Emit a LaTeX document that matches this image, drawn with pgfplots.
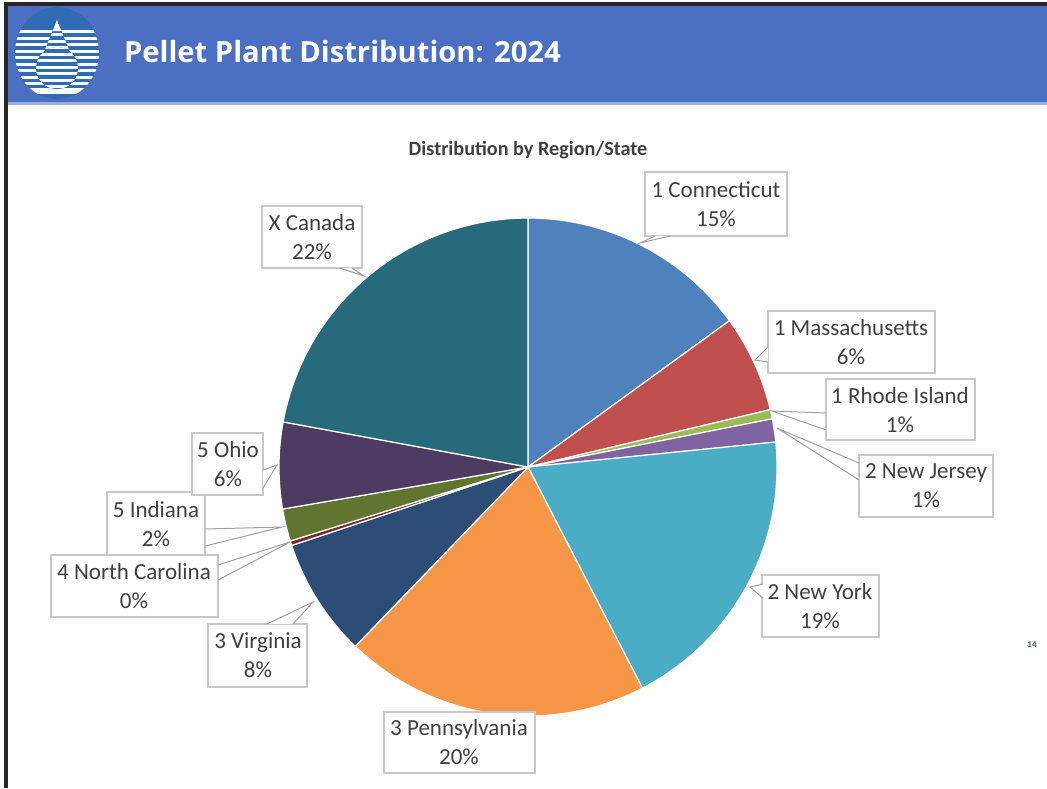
\documentclass[border=0pt]{standalone}
\usepackage{pgfplots}
\usepackage{pgfplotstable}
\pgfplotsset{compat=1.18}
\usepackage{fontspec}
\setmainfont{Carlito}
\newfontfamily\headfont{Open Sans}
\definecolor{cCT}{HTML}{4F81BD}
\definecolor{cMA}{HTML}{C0504D}
\definecolor{cRI}{HTML}{9BBB59}
\definecolor{cNJ}{HTML}{8064A2}
\definecolor{cNY}{HTML}{4BACC6}
\definecolor{cPA}{HTML}{F79646}
\definecolor{cVA}{HTML}{2C4D75}
\definecolor{cNC}{HTML}{772C2A}
\definecolor{cIN}{HTML}{5F7530}
\definecolor{cOH}{HTML}{4D3B62}
\definecolor{cCA}{HTML}{276A7C}
\definecolor{head}{HTML}{4A6FC3}
\definecolor{logo}{HTML}{2F6CB3}
\definecolor{txt}{HTML}{404040}
\definecolor{boxline}{HTML}{C8C8C8}
\tikzset{
  lbl/.style={font=\fontsize{11.5}{14.5}\selectfont,text=txt,align=center},
  bx/.style={draw=boxline,line width=0.6pt,fill=white},
  ld/.style={draw=boxline!80!black,line width=0.5pt}}
\newcommand\stripesA{%
  \fill[white] (0,30) rectangle (120,33);
  \fill[white] (0,36.5) rectangle (120,39.5);
  \fill[white] (0,43) rectangle (120,46);
  \fill[white] (0,49.5) rectangle (120,52.5);
  \fill[white] (0,56) rectangle (120,59);
  \fill[white] (0,62.5) rectangle (120,65.5);
  \fill[white] (0,69) rectangle (120,72);
  \fill[white] (0,75.5) rectangle (120,78.5);
  \fill[white] (0,82) rectangle (120,85);}
\newcommand\stripesB{%
  \fill[white] (0,33.3) rectangle (120,36.2);
  \fill[white] (0,39.8) rectangle (120,42.7);
  \fill[white] (0,46.3) rectangle (120,49.2);
  \fill[white] (0,52.8) rectangle (120,55.7);
  \fill[white] (0,59.3) rectangle (120,62.2);
  \fill[white] (0,65.8) rectangle (120,68.7);
  \fill[white] (0,72.3) rectangle (120,75.2);
  \fill[white] (0,78.8) rectangle (120,81.7);
  \fill[white] (0,85.3) rectangle (120,88.2);}
\pgfplotstableread{
share color
15   cCT
6.3  cMA
0.6  cRI
1.5  cNJ
19   cNY
19.8 cPA
7.7  cVA
0.3  cNC
2.1  cIN
5.6  cOH
22.1 cCA
}\piedata
\begin{document}
\begin{tikzpicture}
\begin{axis}[x=0.5pt,y=0.5pt,xmin=0,xmax=1047,ymin=0,ymax=788,y dir=reverse,
  hide axis,clip=false,anchor=origin]
% background and frame
\fill[white] (0,0) rectangle (1047,788);
\fill[black!85] (4,2) rectangle (8,788);
\fill[black!85] (4,2) rectangle (1047,6);
\fill[head] (8,6) rectangle (1047,102);
\fill[head!55!white] (8,102) rectangle (1047,105);
% logo
\begin{scope}
\clip (57,53) ellipse [x radius=21pt, y radius=23pt];
\fill[logo] (0,0) rectangle (120,110);
\stripesA
\fill[white] (0,88) rectangle (120,94);
\end{scope}
\begin{scope}
\clip (57,20) -- (40,62) -- (74,62) -- cycle;
\fill[logo] (0,0) rectangle (120,110);
\stripesB
\fill[white] (57,20) -- (52,31) -- (62,31) -- cycle;
\end{scope}
\begin{scope}
\clip (57,68) circle [radius=10.5pt];
\fill[logo] (0,0) rectangle (120,110);
\stripesB
\end{scope}
\node[anchor=west,text=white,font=\headfont\bfseries\fontsize{14.6}{18}\selectfont] at (117,52) {Pellet Plant Distribution: 2024};
\node[font=\bfseries\fontsize{10.1}{12}\selectfont,text=txt] at (528,150) {Distribution by Region/State};
% pie
\xdef\cum{0}
\pgfplotstablegetrowsof{\piedata}
\pgfmathtruncatemacro\nrows{\pgfplotsretval-1}
\foreach \i in {0,...,\nrows}{
  \pgfplotstablegetelem{\i}{share}\of\piedata \let\p\pgfplotsretval
  \pgfplotstablegetelem{\i}{color}\of\piedata \let\c\pgfplotsretval
  \pgfmathsetmacro\a{90-3.6*\cum}
  \pgfmathsetmacro\b{90-3.6*(\cum+\p)}
  \edef\temp{\noexpand\addplot[fill=\c,draw=white,line width=0.6pt,domain=\b:\a,samples=60] ({528+249*cos(x)},{467-249*sin(x)}) -- (528,467) -- cycle;}
  \temp
  \pgfmathsetmacro\n{\cum+\p}
  \xdef\cum{\n}
}
% labels
% Canada
\draw[bx] (262,206) rectangle (362,268);
\filldraw[ld,fill=white] (340,268) -- (364,276) -- (352,268);
\node[lbl] at (312,237) {X Canada\\22\%};
% Connecticut
\draw[bx] (645,172) rectangle (787,236);
\filldraw[ld,fill=white] (655,236) -- (640,243) -- (670,236);
\node[lbl] at (716,204) {1 Connecticut\\15\%};
% Massachusetts
\draw[bx] (768,311) rectangle (935,373);
\filldraw[ld,fill=white] (768,347) -- (755,360) -- (768,362);
\node[lbl] at (851,342) {1 Massachusetts\\6\%};
% Rhode Island
\draw[bx] (826,379) rectangle (975,440);
\draw[ld] (826,413) -- (772,411) -- (826,430);
\node[lbl] at (900,410) {1 Rhode Island\\1\%};
% New Jersey
\draw[bx] (859,455) rectangle (993,517);
\draw[ld] (859,463) -- (777,428) -- (859,480);
\node[lbl] at (926,486) {2 New Jersey\\1\%};
% New York
\draw[bx] (762,575) rectangle (879,637);
\filldraw[ld,fill=white] (763,584) -- (750,587) -- (763,598);
\node[lbl] at (820,606) {2 New York\\19\%};
% Pennsylvania
\draw[bx] (384,712) rectangle (535,773);
\node[lbl] at (459,742) {3 Pennsylvania\\20\%};
% Virginia
\draw[bx] (208,624) rectangle (307,687);
\filldraw[ld,fill=white] (267,624) -- (313,602) -- (293,624);
\node[lbl] at (258,655) {3 Virginia\\8\%};
% Indiana
\draw[bx] (107,492) rectangle (205,556);
\draw[ld] (205,529) -- (282,527) -- (205,546);
\node[lbl] at (156,524) {5 Indiana\\2\%};
% North Carolina
\draw[bx] (51,555) rectangle (218,617);
\draw[ld] (218,565) -- (290,542) -- (218,580);
\node[lbl] at (134,586) {4 North Carolina\\0\%};
% Ohio
\draw[bx] (192,433) rectangle (263,495);
\filldraw[ld,fill=white] (263,470) -- (277,465) -- (263,488);
\node[lbl] at (228,464) {5 Ohio\\6\%};
% page number
\node[font=\bfseries\fontsize{4.5}{5}\selectfont,text=head!80!black] at (1032,645) {14};
\end{axis}
\end{tikzpicture}
\end{document}
